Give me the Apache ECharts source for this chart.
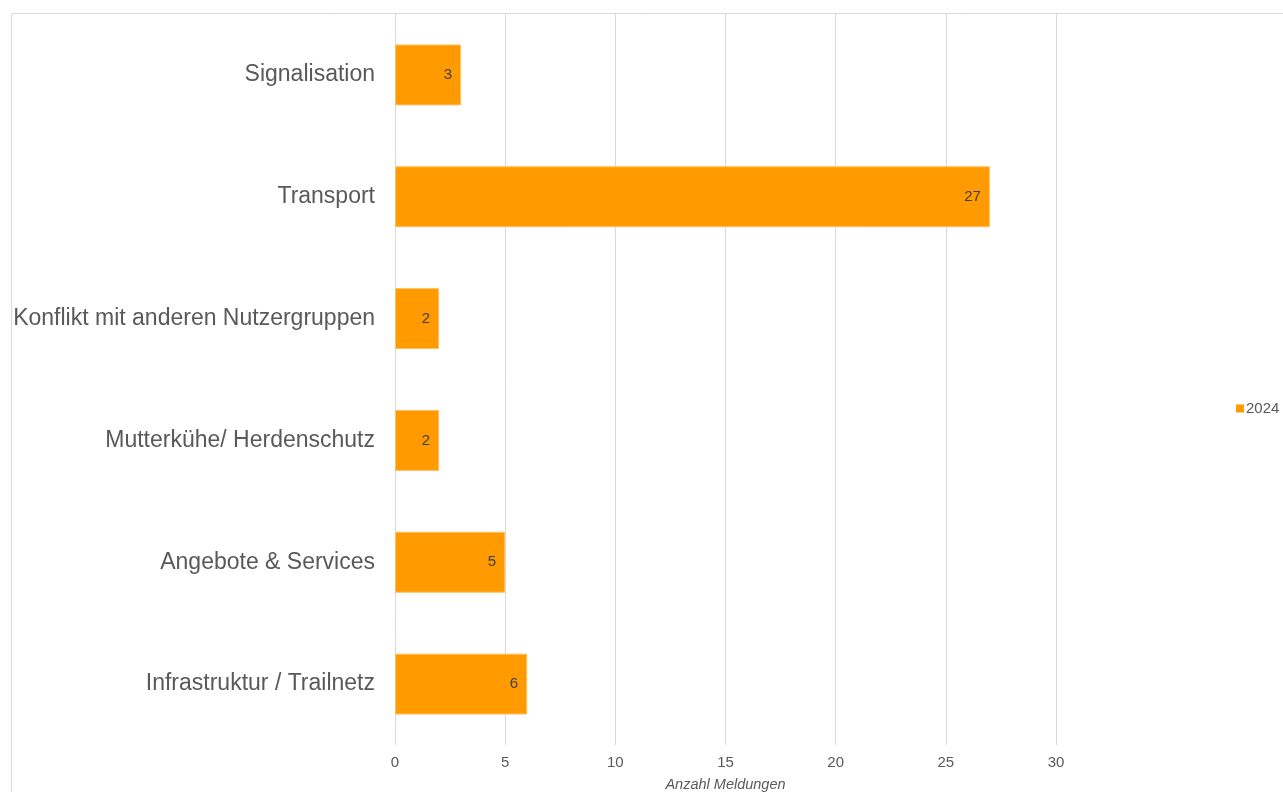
<!DOCTYPE html>
<html>
<head>
<meta charset="utf-8">
<script src="https://cdn.jsdelivr.net/npm/echarts@6/dist/echarts.min.js"></script>
<style>
html,body{margin:0;padding:0;background:#fff;}
#chart{width:1283px;height:792px;}
</style>
</head>
<body>
<div id="chart"></div>
<script>
// Meldungen 2024 nach Kategorie (top to bottom)
const categories = [
  'Signalisation',
  'Transport',
  'Konflikt mit anderen Nutzergruppen',
  'Mutterkühe/ Herdenschutz',
  'Angebote & Services',
  'Infrastruktur / Trailnetz'
];
const values2024 = [3, 27, 2, 2, 5, 6];
const seriesName = '2024';
const axisTitle = 'Anzahl Meldungen';

const chart = echarts.init(document.getElementById('chart'), null, {renderer: 'canvas'});
const font = '"Liberation Sans", Arial, sans-serif';

chart.setOption({
  animation: false,
  textStyle: {fontFamily: font},
  graphic: [{
    type: 'rect',
    shape: {x: 11.5, y: 13.5, width: 1400, height: 900},
    style: {fill: 'none', stroke: '#d9d9d9', lineWidth: 1},
    silent: true,
    z: -10
  }],
  legend: {
    data: [seriesName],
    orient: 'vertical',
    left: 1231,
    top: 396,
    itemWidth: 8,
    itemHeight: 8,
    itemGap: 4,
    icon: 'rect',
    itemStyle: {borderWidth: 0},
    textStyle: {color: '#595959', fontSize: 15, fontFamily: font, padding: [0, 0, 0, -3]}
  },
  grid: {
    left: 395,
    right: 227,
    top: 14,
    bottom: 47,
    containLabel: false,
    outerBoundsMode: 'none'
  },
  xAxis: {
    type: 'value',
    min: 0,
    max: 30,
    interval: 5,
    name: axisTitle,
    nameLocation: 'middle',
    nameGap: 32,
    nameTextStyle: {color: '#595959', fontSize: 14.5, fontStyle: 'italic', fontFamily: font},
    axisLine: {show: false},
    axisTick: {show: false},
    axisLabel: {color: '#595959', fontSize: 15, margin: 10, fontFamily: font},
    splitLine: {show: true, lineStyle: {color: '#d9d9d9', width: 1}}
  },
  yAxis: {
    type: 'category',
    data: categories,
    inverse: true,
    axisLine: {show: false},
    axisTick: {show: false},
    axisLabel: {color: '#595959', fontSize: 23, margin: 20, padding: [3, 0, 0, 0], fontFamily: font},
    splitLine: {show: false}
  },
  series: [{
    name: seriesName,
    type: 'bar',
    data: values2024,
    barWidth: '50%',
    itemStyle: {color: '#ff9a00', borderColor: '#ffc060', borderWidth: 1},
    label: {
      show: true,
      position: 'insideRight',
      offset: [-4, 0],
      color: '#404040',
      fontSize: 15,
      fontFamily: font
    }
  }]
});
</script>
</body>
</html>
